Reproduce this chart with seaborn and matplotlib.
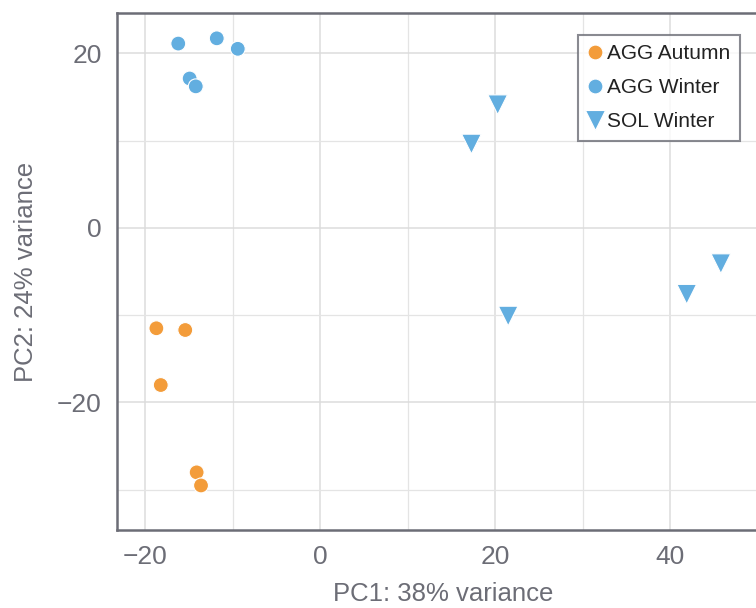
import matplotlib
matplotlib.use("Agg")
import matplotlib.pyplot as plt
import seaborn as sns
import pandas as pd

groups = ["AGG Winter"] * 5 + ["AGG Autumn"] * 5 + ["SOL Winter"] * 5
pc1 = [-16.2, -11.8, -9.4, -14.9, -14.2,
       -18.7, -15.4, -18.2, -14.1, -13.6,
       20.3, 17.3, 21.5, 41.9, 45.8]
pc2 = [21.1, 21.7, 20.5, 17.1, 16.2,
       -11.5, -11.7, -18.0, -28.0, -29.5,
       14.1, 9.6, -10.1, -7.6, -4.1]
order = ["AGG Autumn", "AGG Winter", "SOL Winter"]
colors = {"AGG Autumn": "#F39C3A", "AGG Winter": "#62AEE0", "SOL Winter": "#62AEE0"}
markers = {"AGG Autumn": "o", "AGG Winter": "o", "SOL Winter": "v"}
sizes = {"AGG Autumn": 115, "AGG Winter": 115, "SOL Winter": 200}

df = pd.DataFrame({"PC1": pc1, "PC2": pc2, "group": groups})

sns.set_style("white")
plt.rcParams["font.family"] = ["Liberation Sans", "DejaVu Sans"]
grey = "#6C6D76"

fig = plt.figure(figsize=(7.56, 6.08), dpi=100)
ax = fig.add_axes([117/756, 1 - 530/608, (769 - 117)/756, (530 - 13)/608])

sns.scatterplot(data=df, x="PC1", y="PC2", hue="group", style="group", size="group",
                hue_order=order, style_order=order, size_order=order,
                palette=colors, markers=markers, sizes=sizes,
                edgecolor="white", linewidth=0.8, ax=ax, zorder=3)

ax.set_xlim(-23.2, 51.3)
ax.set_ylim(-34.6, 24.6)
ax.set_xticks([-20, 0, 20, 40])
ax.set_yticks([-20, 0, 20])
ax.set_xticks([-10, 10, 30], minor=True)
ax.set_yticks([-30, -10, 10], minor=True)
ax.grid(True, which="major", color="#DCDCDC", linewidth=1.1)
ax.grid(True, which="minor", color="#E4E4E4", linewidth=0.9)
ax.set_axisbelow(True)
for sp in ax.spines.values():
    sp.set_color(grey)
    sp.set_linewidth(1.8)
ax.tick_params(axis="both", which="major", direction="out", length=6, width=2.2,
               color=grey, labelcolor=grey, labelsize=19, pad=5)
ax.tick_params(axis="both", which="minor", length=0)
ax.set_xlabel("PC1: 38% variance", fontsize=18.5, color=grey, labelpad=9)
ax.set_ylabel("PC2: 24% variance", fontsize=18.5, color=grey, labelpad=14)

handles, labels = ax.get_legend_handles_labels()
leg = ax.legend(handles, labels, loc="upper right",
                bbox_to_anchor=(740/756, 1 - 35/608), bbox_transform=fig.transFigure,
                borderaxespad=0, frameon=True, fancybox=False, fontsize=15,
                handlelength=0.75, handletextpad=0.2, labelspacing=0.72,
                borderpad=0.45, markerscale=1.0)
leg.get_frame().set_edgecolor(grey)
leg.get_frame().set_linewidth(1.5)
for t in leg.get_texts():
    t.set_color("#222222")

fig.savefig("out.png", dpi=100)
